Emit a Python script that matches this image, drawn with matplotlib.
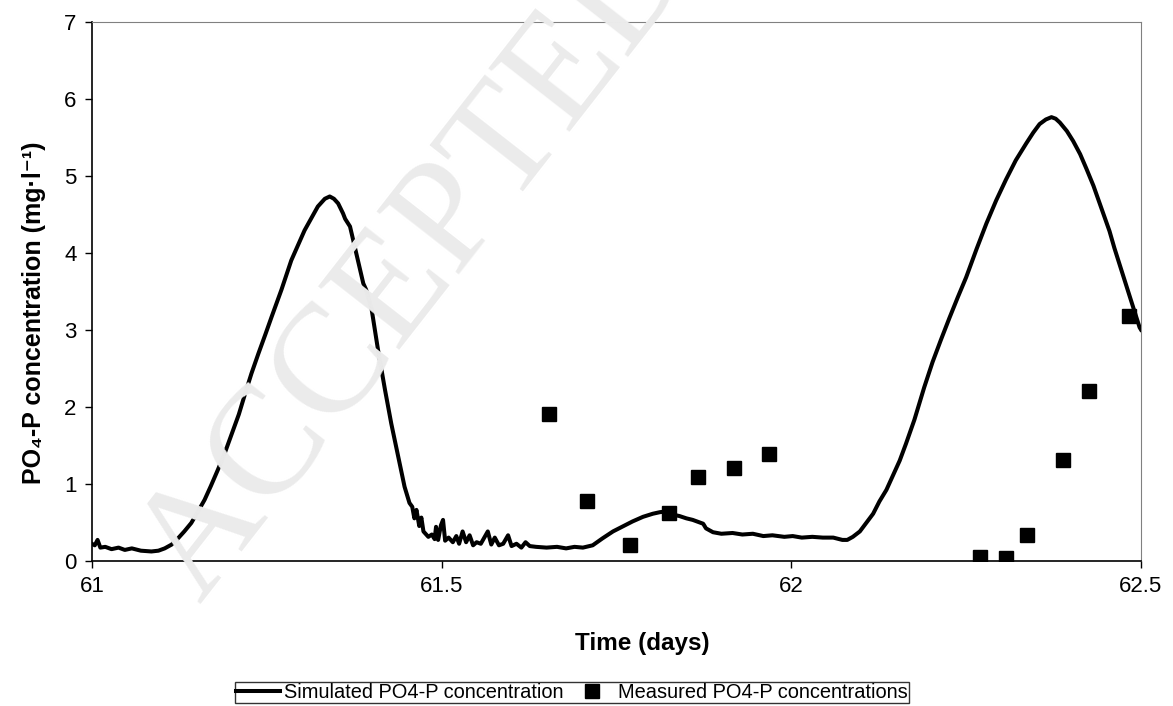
import matplotlib
matplotlib.use("Agg")
import matplotlib.pyplot as plt

plt.rcParams['font.family'] = ['Liberation Sans', 'DejaVu Sans']

# simulated PO4-P concentration
sim_t = [61.000, 61.004, 61.008, 61.012, 61.019, 61.028, 61.038, 61.047, 61.057, 61.070,
         61.085, 61.095, 61.104, 61.114, 61.123, 61.132, 61.142, 61.151, 61.161, 61.170,
         61.180, 61.190, 61.200, 61.210, 61.219, 61.228, 61.238, 61.248, 61.257, 61.271,
         61.285, 61.304, 61.323, 61.333, 61.340, 61.346, 61.352, 61.359, 61.362, 61.369,
         61.378, 61.388, 61.392, 61.400, 61.409, 61.419, 61.428, 61.438, 61.447, 61.454,
         61.458, 61.461, 61.464, 61.468, 61.471, 61.474, 61.481, 61.486, 61.490, 61.492,
         61.495, 61.499, 61.502, 61.505, 61.510, 61.516, 61.521, 61.525, 61.530, 61.535,
         61.540, 61.545, 61.550, 61.556, 61.561, 61.566, 61.571, 61.576, 61.582, 61.588,
         61.595, 61.600, 61.607, 61.614, 61.620, 61.626, 61.635, 61.650, 61.665, 61.678,
         61.690, 61.702, 61.716, 61.730, 61.745, 61.760, 61.773, 61.788, 61.802, 61.812,
         61.821, 61.830, 61.840, 61.850, 61.859, 61.868, 61.874, 61.878, 61.888, 61.900,
         61.916, 61.930, 61.945, 61.960, 61.973, 61.990, 62.002, 62.015, 62.030, 62.045,
         62.060, 62.073, 62.080, 62.088, 62.098, 62.107, 62.117, 62.126, 62.136, 62.145,
         62.155, 62.164, 62.176, 62.190, 62.202, 62.214, 62.226, 62.238, 62.250, 62.265,
         62.279, 62.293, 62.307, 62.321, 62.336, 62.346, 62.355, 62.364, 62.372, 62.378,
         62.384, 62.394, 62.403, 62.413, 62.422, 62.432, 62.441, 62.448, 62.455, 62.462,
         62.470, 62.477, 62.484, 62.491, 62.498, 62.500]
sim_c = [0.22, 0.20, 0.27, 0.17, 0.18, 0.15, 0.17, 0.14, 0.16, 0.13,
         0.12, 0.13, 0.16, 0.21, 0.29, 0.38, 0.49, 0.63, 0.79, 0.97,
         1.18, 1.40, 1.65, 1.90, 2.17, 2.43, 2.69, 2.94, 3.17, 3.52,
         3.90, 4.29, 4.60, 4.70, 4.73, 4.70, 4.64, 4.51, 4.44, 4.34,
         3.99, 3.60, 3.52, 3.26, 2.74, 2.22, 1.78, 1.35, 0.96, 0.75,
         0.70, 0.55, 0.66, 0.45, 0.56, 0.38, 0.31, 0.34, 0.28, 0.44,
         0.27, 0.46, 0.53, 0.26, 0.30, 0.24, 0.32, 0.22, 0.38, 0.24,
         0.33, 0.20, 0.24, 0.22, 0.30, 0.38, 0.21, 0.30, 0.20, 0.22,
         0.33, 0.19, 0.22, 0.17, 0.24, 0.19, 0.18, 0.17, 0.18, 0.16,
         0.18, 0.17, 0.20, 0.29, 0.38, 0.45, 0.51, 0.57, 0.61, 0.63,
         0.64, 0.60, 0.58, 0.55, 0.53, 0.50, 0.48, 0.42, 0.37, 0.35,
         0.36, 0.34, 0.35, 0.32, 0.33, 0.31, 0.32, 0.30, 0.31, 0.30,
         0.30, 0.27, 0.27, 0.31, 0.38, 0.49, 0.61, 0.77, 0.92, 1.10,
         1.30, 1.52, 1.83, 2.25, 2.58, 2.87, 3.15, 3.42, 3.68, 4.05,
         4.38, 4.68, 4.95, 5.20, 5.42, 5.56, 5.67, 5.73, 5.76, 5.74,
         5.69, 5.58, 5.45, 5.28, 5.09, 4.87, 4.64, 4.46, 4.28, 4.06,
         3.83, 3.63, 3.43, 3.23, 3.03, 3.00]

# measured PO4-P concentrations
meas_t = [61.654, 61.708, 61.769, 61.825, 61.866, 61.918, 61.968,
          62.270, 62.307, 62.337, 62.388, 62.426, 62.483]
meas_c = [1.90, 0.77, 0.20, 0.62, 1.09, 1.21, 1.38,
          0.05, 0.03, 0.33, 1.31, 2.20, 3.18]

x_ticks = [61, 61.5, 62, 62.5]
x_labels = ["61", "61.5", "62", "62.5"]

fig = plt.figure(figsize=(11.73, 7.06), dpi=100)
ax = fig.add_axes([0.0784, 0.2058, 0.8943, 0.7635])

# faint watermark behind everything
fig.text(200 / 1173, 1 - 605 / 706, "ACCEPTED MANUSCRIPT", family="Liberation Serif",
         fontsize=112, color="#ebebeb", rotation=52, rotation_mode="anchor",
         ha="left", va="baseline", zorder=0)
ax.patch.set_alpha(0)

ax.plot(sim_t, sim_c, color="black", lw=2.9, label="Simulated PO4-P concentration", zorder=3)
ax.plot(meas_t, meas_c, "s", color="black", ms=9.5, label="Measured PO4-P concentrations", zorder=4)

ax.set_xlim(61, 62.5)
ax.set_ylim(0, 7)
ax.set_xticks(x_ticks)
ax.set_xticklabels(x_labels)
ax.set_yticks(range(0, 8))
ax.tick_params(labelsize=16, direction="out", length=5, width=1, pad=6)
for s in ["top", "right"]:
    ax.spines[s].set_color("#808080")
ax.spines["left"].set_linewidth(1.2)
ax.spines["bottom"].set_linewidth(1.2)

ax.set_xlabel("Time (days)", fontsize=17.5, fontweight="bold")
ax.set_ylabel("PO\u2084-P concentration (mg\u00b7l\u207b\u00b9)", fontsize=18, fontweight="bold")
ax.xaxis.set_label_coords(0.525, -0.133)
ax.yaxis.set_label_coords(-0.044, 0.46)

leg = fig.legend(loc="upper center", bbox_to_anchor=(572 / 1173, 1 - 682 / 706), ncol=2,
                 fontsize=14.4, frameon=True, fancybox=False, edgecolor="black",
                 borderaxespad=0, handlelength=2.2, handletextpad=0.2, columnspacing=0.3,
                 borderpad=0.05)
leg.get_frame().set_linewidth(1)

fig.savefig("out.png", dpi=100)
